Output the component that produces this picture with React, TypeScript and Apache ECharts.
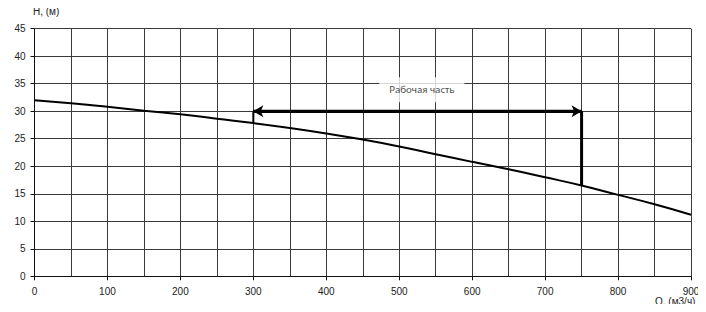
import React, { useEffect, useRef } from "react";
import * as echarts from "echarts";

const flowQ = [0, 50, 100, 150, 200, 250, 300, 350, 400, 450, 500, 550, 600, 650, 700, 750, 800, 850, 900];
const headH = [32.0, 31.45, 30.8, 30.1, 29.45, 28.65, 27.85, 26.95, 25.95, 24.85, 23.6, 22.2, 20.8, 19.45, 18.0, 16.5, 14.8, 13.1, 11.2];
const workStart = 300;
const workEnd = 750;
const workLevel = 30;
const workStartHead = 27.85;
const workEndHead = 16.5;
const workLabel = "Рабочая часть";
const workLabelPos = [531, 33.9];
const yAxisName = "H, (м)";
const xAxisName = "Q, (м3/ч)";

export default function App() {
  const ref = useRef<HTMLDivElement>(null);
  useEffect(() => {
    if (!ref.current) return;
    const chart = echarts.init(ref.current, null, { renderer: "svg" });
    const font = "'Liberation Sans', Arial, sans-serif";
    chart.setOption({
      animation: false,
      backgroundColor: "#fff",
      grid: { left: 34.5, right: 15, top: 28.7, bottom: 35.7, containLabel: false },
      xAxis: {
        type: "value",
        min: 0,
        max: 900,
        interval: 100,
        axisLine: { show: true, onZero: false, lineStyle: { color: "#111", width: 1 } },
        axisTick: { show: true, length: 4, lineStyle: { color: "#111" } },
        axisLabel: { color: "#222", fontSize: 10, fontFamily: font, margin: 10 },
        splitLine: { show: true, lineStyle: { color: "#3a3a3a", width: 1 } },
        minorTick: { show: false, splitNumber: 2 },
        minorSplitLine: { show: true, lineStyle: { color: "#3a3a3a", width: 1 } },
      },
      yAxis: {
        type: "value",
        min: 0,
        max: 45,
        interval: 5,
        axisLine: { show: true, lineStyle: { color: "#111", width: 1 } },
        axisTick: { show: true, length: 4, lineStyle: { color: "#111" } },
        axisLabel: { color: "#222", fontSize: 10, fontFamily: font, margin: 9 },
        splitLine: { show: true, lineStyle: { color: "#3a3a3a", width: 1 } },
      },
      graphic: [
        { type: "text", x: 33, y: 6, style: { text: yAxisName, fill: "#222", fontSize: 10, fontFamily: font } },
        { type: "text", x: 655, y: 296, style: { text: xAxisName, fill: "#222", fontSize: 10, fontFamily: font } },
      ],
      series: [
        {
          type: "line",
          data: flowQ.map((q, i) => [q, headH[i]]),
          smooth: true,
          showSymbol: false,
          lineStyle: { color: "#000", width: 2 },
          z: 3,
        },
        {
          type: "line",
          data: [
            [workEnd, workLevel],
            [workEnd, workEndHead],
          ],
          showSymbol: false,
          lineStyle: { color: "#000", width: 3 },
          z: 4,
        },
        {
          type: "line",
          data: [
            [workStart, workLevel],
            [workStart, workStartHead],
          ],
          showSymbol: false,
          lineStyle: { color: "#000", width: 2 },
          z: 4,
        },
        {
          type: "line",
          data: [
            [workStart, workLevel],
            [workEnd, workLevel],
          ],
          showSymbol: false,
          lineStyle: { color: "#000", width: 3 },
          z: 4,
          markLine: {
            silent: true,
            symbol: ["arrow", "arrow"],
            symbolSize: [9, 10],
            label: { show: false },
            lineStyle: { color: "#000", width: 3, type: "solid" },
            data: [[{ coord: [workStart, workLevel] }, { coord: [workEnd, workLevel] }]],
          },
        },
        {
          type: "scatter",
          data: [workLabelPos],
          symbolSize: 1,
          itemStyle: { color: "rgba(0,0,0,0)" },
          z: 5,
          label: {
            show: true,
            position: "inside",
            formatter: workLabel,
            color: "#222",
            fontSize: 11,
            fontFamily: "Carlito, 'Open Sans', sans-serif",
            backgroundColor: "#fff",
            padding: [7, 10, 7, 10],
          },
        },
      ],
    });
    return () => chart.dispose();
  }, []);
  return <div ref={ref} style={{ width: 706, height: 312, margin: -8 }} />;
}
